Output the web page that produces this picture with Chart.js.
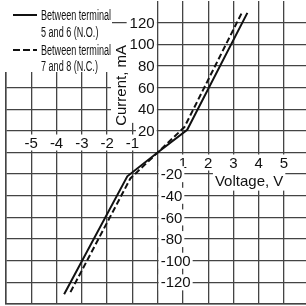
<!DOCTYPE html>
<html><head><meta charset="utf-8">
<script src="https://cdn.jsdelivr.net/npm/chart.js@4"></script>
<style>html,body{margin:0;padding:0;background:#fff}#wrap{width:306px;height:306px}</style>
</head><body><div id="wrap"><canvas id="c" width="306" height="306"></canvas></div>
<script>
// ---- data ----
const seriesNO = ['Between terminal', '5 and 6 (N.O.)'];
const seriesNC = ['Between terminal', '7 and 8 (N.C.)'];
const noVoltage = [-3.7, -1.2, 0, 1.17, 3.55];
const noCurrent = [-131, -22, 0, 21, 129];
const ncVoltage = [-3.45, -1.08, 0, 1.06, 3.35];
const ncCurrent = [-129, -24, 0, 23.5, 130];
const xTickLabels = [-5, -4, -3, -2, -1, 1, 2, 3, 4, 5];
const yTickLabels = [120, 100, 80, 60, 40, 20, -20, -40, -60, -80, -100, -120];
const xTitle = 'Voltage, V';
const yTitle = 'Current, mA';

const toPts = (xs, ys) => xs.map((v, i) => ({x: v, y: ys[i]}));
const GRID = '#444';
const FONT = '"Liberation Sans", Arial, sans-serif';

const overlay = {
  id: 'overlay',
  beforeDatasetsDraw(chart) {
    const {ctx} = chart;
    const x = chart.scales.x, y = chart.scales.y;
    const x0 = x.getPixelForValue(0), y0 = y.getPixelForValue(0);
    ctx.save();
    ctx.fillStyle = '#fff';
    ctx.fillRect(x0 - 31, 0, 30, y.getPixelForValue(20) - 8);
    ctx.fillRect(0, 0, 112, 72);
    ctx.font = '15px ' + FONT;
    ctx.textBaseline = 'middle';
    function label(t, px, py, align) {
      const w = ctx.measureText(t).width;
      let lx = align === 'center' ? px - w / 2 : align === 'right' ? px - w : px;
      ctx.fillStyle = '#fff';
      ctx.fillRect(lx - 2, py - 8, w + 4, 16);
      ctx.fillStyle = '#111';
      ctx.textAlign = 'left';
      ctx.fillText(t, lx, py + 1);
    }
    for (const v of xTickLabels) {
      const px = x.getPixelForValue(v);
      label(String(v), px, v < 0 ? y0 - 10 : y0 + 10, 'center');
    }
    for (const v of yTickLabels) {
      const py = y.getPixelForValue(v);
      if (v > 0) label(String(v), x0 - 3, py, 'right');
      else label(String(v), x0 + 3, py, 'left');
    }
    const tw = ctx.measureText(xTitle).width;
    const tcx = x.getPixelForValue(3.62), tcy = y.getPixelForValue(-26);
    ctx.fillStyle = '#fff';
    ctx.fillRect(tcx - tw / 2 - 2, tcy - 12, tw + 4, 22);
    ctx.fillStyle = '#111';
    ctx.textAlign = 'center';
    ctx.fillText(xTitle, tcx, tcy + 1);
    const yw = ctx.measureText(yTitle).width;
    const ycx = x.getPixelForValue(-1.45), ycy = y.getPixelForValue(62);
    ctx.fillStyle = '#fff';
    ctx.fillRect(ycx - 10, ycy - yw / 2 - 2, 19, yw + 4);
    ctx.save();
    ctx.translate(ycx, ycy);
    ctx.rotate(-Math.PI / 2);
    ctx.fillStyle = '#111';
    ctx.textAlign = 'center';
    ctx.fillText(yTitle, 0, 1);
    ctx.restore();
    // legend
    ctx.font = '14px ' + FONT;
    const target = 70;
    const sx = Math.min(1, target / ctx.measureText(seriesNO[0]).width);
    const ds = chart.data.datasets;
    const rows = [[ds[0], seriesNO, 15, 32], [ds[1], seriesNC, 50, 66]];
    for (const [d, lines, ya, yb] of rows) {
      ctx.strokeStyle = d.borderColor;
      ctx.lineWidth = 2;
      ctx.setLineDash(d.borderDash ? [7, 3] : []);
      ctx.beginPath();
      ctx.moveTo(13, ya); ctx.lineTo(37, ya);
      ctx.stroke();
      ctx.setLineDash([]);
      ctx.fillStyle = '#111';
      ctx.textAlign = 'left';
      [[lines[0], ya], [lines[1], yb]].forEach(([t, ty]) => {
        ctx.save();
        ctx.translate(41, ty + 1);
        ctx.scale(sx, 1);
        ctx.fillText(t, 0, 0);
        ctx.restore();
      });
    }
    ctx.restore();
  }
};

new Chart(document.getElementById('c'), {
  type: 'scatter',
  data: {
    datasets: [
      {label: seriesNO.join(' '), data: toPts(noVoltage, noCurrent), showLine: true,
       borderColor: '#111', borderWidth: 2, pointRadius: 0, tension: 0},
      {label: seriesNC.join(' '), data: toPts(ncVoltage, ncCurrent), showLine: true,
       borderColor: '#111', borderWidth: 2, borderDash: [6, 3], pointRadius: 0, tension: 0}
    ]
  },
  options: {
    responsive: false, animation: false, devicePixelRatio: 1,
    layout: {padding: {left: 6, top: 1, right: 0, bottom: 2}},
    plugins: {legend: {display: false}, tooltip: {enabled: false}},
    scales: {
      x: {type: 'linear', min: -6, max: 5.87,
          ticks: {display: false, stepSize: 1, includeBounds: false},
          grid: {color: GRID, lineWidth: 1.3, drawTicks: false},
          border: {display: true, color: GRID, width: 1.5}},
      y: {type: 'linear', min: -140, max: 140,
          ticks: {display: false, stepSize: 20},
          grid: {color: c => (c.tick && c.tick.value === 140) ? 'rgba(0,0,0,0)' : GRID,
                 lineWidth: 1.3, drawTicks: false},
          border: {display: true, color: GRID, width: 1.5}}
    }
  },
  plugins: [overlay]
});
</script>
</body></html>
